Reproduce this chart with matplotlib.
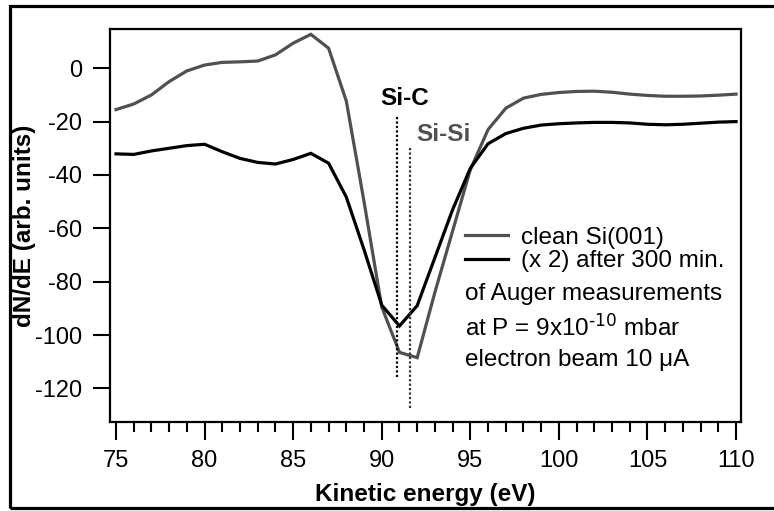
import matplotlib
matplotlib.use("Agg")
import matplotlib.pyplot as plt
from matplotlib.patches import Rectangle
import numpy as np

# ---------------------------------------------------------------
# Data
# ---------------------------------------------------------------
energy = np.arange(75, 111)  # eV

clean_si = [-15.5, -13.4, -10.0, -5.0, -1.0, 1.2, 2.2, 2.4, 2.7, 5.0,
            9.4, 12.7, 7.5, -12.3, -50.0, -89.5, -106.5, -108.5, -84.0, -61.0,
            -38.0, -23.0, -15.0, -11.2, -9.8, -9.1, -8.7, -8.6, -9.0, -9.7,
            -10.2, -10.5, -10.5, -10.4, -10.1, -9.7]

after_300 = [-32.1, -32.3, -31.0, -30.0, -29.0, -28.5, -31.3, -33.8, -35.3, -35.9,
             -34.2, -31.9, -35.6, -48.3, -68.0, -88.8, -96.6, -89.0, -71.0, -53.0,
             -37.5, -28.3, -24.5, -22.5, -21.3, -20.8, -20.5, -20.3, -20.3, -20.5,
             -21.0, -21.2, -21.0, -20.6, -20.2, -20.0]

# peak markers: energy and vertical extent of the dotted lines
SIC_E, SIC_Y = 90.85, (-115.6, -18.0)
SISI_E, SISI_Y = 91.6, (-127.5, -29.0)

SERIES_LABELS = ["clean Si(001)", "(x 2) after 300 min."]
NOTE_LINES = ["of Auger measurements",
              "at P = 9x10$^{\\text{-10}}$ mbar",
              "electron beam 10 \u03bcA"]

GRAY = "#505050"

plt.rcParams["font.family"] = ["Liberation Sans", "DejaVu Sans"]
plt.rcParams["mathtext.default"] = "regular"
plt.rcParams["axes.unicode_minus"] = False

FS = 17.5

fig = plt.figure(figsize=(7.74, 5.11), dpi=100)
ax = fig.add_axes([0.1421, 0.1742, 0.8153, 0.769])

ax.plot(energy, clean_si, color=GRAY, lw=2.3, label=SERIES_LABELS[0],
        solid_joinstyle="miter")
ax.plot(energy, after_300, color="black", lw=2.3, label=SERIES_LABELS[1],
        solid_joinstyle="miter")

# dotted peak positions
ax.vlines(SIC_E, *SIC_Y, colors="black", linestyles=(0, (1, 1)), lw=1.6)
ax.vlines(SISI_E, *SISI_Y, colors="#333333", linestyles=(0, (1, 1)), lw=1.6)
ax.text(91.31, -13.8, "Si-C", fontsize=FS, fontweight="bold",
        ha="center", va="baseline", color="black")
ax.text(93.46, -27.1, "Si-Si", fontsize=FS, fontweight="bold",
        ha="center", va="baseline", color=GRAY)

ax.set_xlim(74.66, 110.28)
ax.set_ylim(-132.6, 14.7)

ax.set_xticks(np.arange(75, 111, 5))
ax.set_xticks(np.arange(75, 111, 1), minor=True)
ax.set_yticks(np.arange(-120, 1, 20))

ax.tick_params(axis="x", which="major", direction="out", length=13, width=1.5,
               labelsize=17, pad=7)
ax.tick_params(axis="x", which="minor", direction="out", length=7, width=1.5)
ax.tick_params(axis="y", which="major", direction="out", length=12, width=1.5,
               labelsize=17, pad=8)
for s in ax.spines.values():
    s.set_linewidth(1.6)

ax.set_xlabel("Kinetic energy (eV)", fontsize=FS, fontweight="bold")
ax.set_ylabel("dN/dE (arb. units)", fontsize=FS, fontweight="bold")
ax.xaxis.set_label_coords(0.5, -0.155)
ax.yaxis.set_label_coords(-0.118, 0.5)

# legend with the two curves, then the measurement notes below it
leg = ax.legend(loc="upper left", bbox_to_anchor=(0.562, 0.497), frameon=False,
                fontsize=FS, handlelength=1.77, handletextpad=0.55,
                labelspacing=0.06, borderaxespad=0, borderpad=0)
for note, yb in zip(NOTE_LINES, [0.310, 0.221, 0.143]):
    ax.text(0.563, yb, note, transform=ax.transAxes, fontsize=FS,
            ha="left", va="baseline")

# outer frame of the figure (right side cut off in the original)
fig.add_artist(Rectangle((0.0129, 0.006), 1.2, 0.982, transform=fig.transFigure,
                         fill=False, lw=2.3, edgecolor="black", clip_on=False))

fig.savefig("out.png", dpi=100)
